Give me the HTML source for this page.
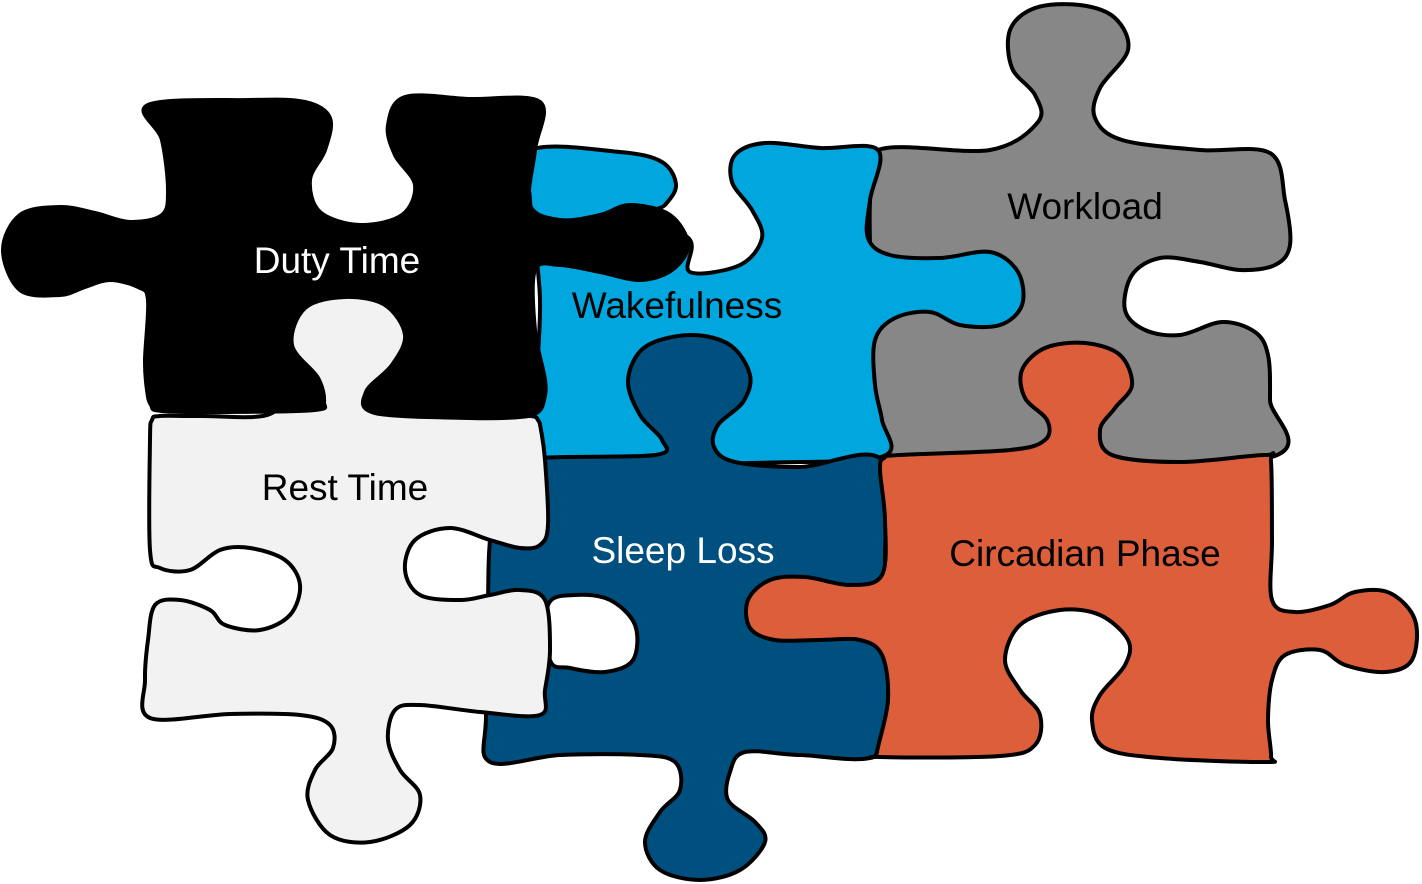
<!DOCTYPE html>
<html><head><meta charset="utf-8">
<style>
html,body{margin:0;padding:0;background:#fff;}
svg{display:block;}
text{font-family:"Liberation Sans",sans-serif;font-size:37px;text-anchor:middle;}
</style></head>
<body>
<svg id="s" width="1422" height="884" viewBox="0 0 1422 884" xmlns="http://www.w3.org/2000/svg">
<g id="pieces" stroke="#000" stroke-width="4" stroke-linejoin="round"></g>
<text x="337" y="273" fill="#fff">Duty Time</text>
<text x="677" y="318" fill="#000">Wakefulness</text>
<text x="1085" y="219" fill="#000">Workload</text>
<text x="345" y="500" fill="#000">Rest Time</text>
<text x="683" y="563" fill="#fff">Sleep Loss</text>
<text x="1085" y="566" fill="#000">Circadian Phase</text>
</svg>
<script>
function path(p){
  var n=p.length,d="M"+p[0][0]+","+p[0][1];
  for(var i=0;i<n;i++){
    var p0=p[(i-1+n)%n],p1=p[i],p2=p[(i+1)%n],p3=p[(i+2)%n];
    var c1x=p1[0]+(p2[0]-p0[0])/6,c1y=p1[1]+(p2[1]-p0[1])/6;
    var c2x=p2[0]-(p3[0]-p1[0])/6,c2y=p2[1]-(p3[1]-p1[1])/6;
    d+="C"+c1x.toFixed(1)+","+c1y.toFixed(1)+" "+c2x.toFixed(1)+","+c2y.toFixed(1)+" "+p2[0]+","+p2[1];
  }
  return d+"Z";
}
var pieces=[
["#878787",[[878,150],[990,150],[1038,122],[1035,95],[1012,68],[1010,30],[1035,8],[1080,5],[1115,18],[1128,50],[1100,88],[1095,118],[1122,140],[1200,150],[1270,153],[1285,200],[1290,245],[1275,265],[1240,270],[1200,262],[1160,258],[1132,275],[1125,310],[1145,330],[1180,335],[1222,322],[1255,332],[1268,355],[1270,400],[1268,458],[1000,465],[880,462],[872,300],[870,200]]],
["#00a7de",[[532,150],[620,152],[662,162],[676,185],[665,205],[650,215],[690,240],[690,272],[740,265],[762,238],[752,210],[732,182],[735,155],[765,143],[820,148],[878,150],[870,200],[868,238],[890,255],[940,258],[990,252],[1018,272],[1022,305],[1000,325],[960,325],[930,312],[895,318],[875,340],[875,385],[882,420],[886,455],[800,462],[540,460],[535,410],[540,300],[530,200]]],
["#00507f",[[540,458],[655,455],[662,440],[640,415],[628,380],[645,347],[690,335],[730,345],[750,375],[743,402],[718,425],[714,447],[735,462],[800,467],[882,460],[885,560],[888,700],[878,755],[800,755],[745,752],[730,772],[728,800],[755,822],[765,842],[740,870],[700,880],[660,870],[645,842],[660,812],[680,790],[675,762],[640,755],[560,755],[490,762],[486,715],[488,600],[490,540],[500,470]]],
["#fff",[[548,605],[575,595],[610,600],[635,625],[633,660],[605,672],[570,668],[550,660]]],
["#dc5e3b",[[900,455],[1010,450],[1045,440],[1047,420],[1025,398],[1022,370],[1045,348],[1085,343],[1120,355],[1132,385],[1115,408],[1100,430],[1112,455],[1180,462],[1265,455],[1271,462],[1272,540],[1272,600],[1295,612],[1330,605],[1355,592],[1390,593],[1415,620],[1412,660],[1385,672],[1345,665],[1320,650],[1285,655],[1272,680],[1268,720],[1271,756],[1265,762],[1160,758],[1105,748],[1092,720],[1100,695],[1125,665],[1128,640],[1100,615],[1060,610],[1020,625],[1005,660],[1020,690],[1040,715],[1035,745],[1000,756],[880,757],[877,752],[888,700],[882,655],[860,640],[820,640],[775,640],[750,628],[748,600],[770,580],[805,577],[850,585],[882,575],[885,520],[880,470],[884,458]]],
["#f2f2f2",[[150,440],[152,420],[160,416],[200,416],[270,414],[285,380],[295,310],[345,288],[400,305],[415,380],[430,414],[490,416],[530,416],[538,420],[541,430],[545,460],[548,525],[540,545],[520,548],[490,540],[450,528],[415,540],[405,570],[420,595],[460,600],[490,595],[520,590],[545,600],[550,650],[545,690],[540,715],[480,712],[420,705],[395,710],[388,740],[400,770],[420,795],[410,825],[370,842],[330,835],[308,800],[315,770],[333,748],[330,725],[300,715],[230,714],[150,718],[145,680],[148,640],[155,605],[180,600],[210,610],[225,625],[260,630],[290,615],[300,585],[285,560],[250,548],[220,550],[190,570],[160,568],[150,550]]],
["#000",[[148,105],[250,100],[305,102],[330,118],[325,150],[310,180],[320,212],[360,225],[402,215],[415,185],[395,155],[388,125],[405,97],[470,99],[540,102],[535,150],[530,205],[560,220],[600,215],[630,205],[670,215],[688,245],[672,270],[640,280],[600,272],[560,265],[535,270],[535,330],[545,380],[544,400],[538,412],[520,417],[470,418],[375,413],[366,392],[392,365],[405,335],[385,305],[345,297],[305,308],[292,345],[318,378],[324,402],[315,410],[230,412],[162,411],[151,405],[147,390],[145,360],[148,300],[138,287],[110,280],[85,287],[60,295],[20,290],[3,250],[20,215],[60,207],[95,213],[130,222],[162,215],[168,190],[162,140]]]
];
var g=document.getElementById("pieces"),ns="http://www.w3.org/2000/svg";
pieces.forEach(function(pc){var e=document.createElementNS(ns,"path");e.setAttribute("d",path(pc[1]));e.setAttribute("fill",pc[0]);g.appendChild(e);});
</script>
</body></html>
